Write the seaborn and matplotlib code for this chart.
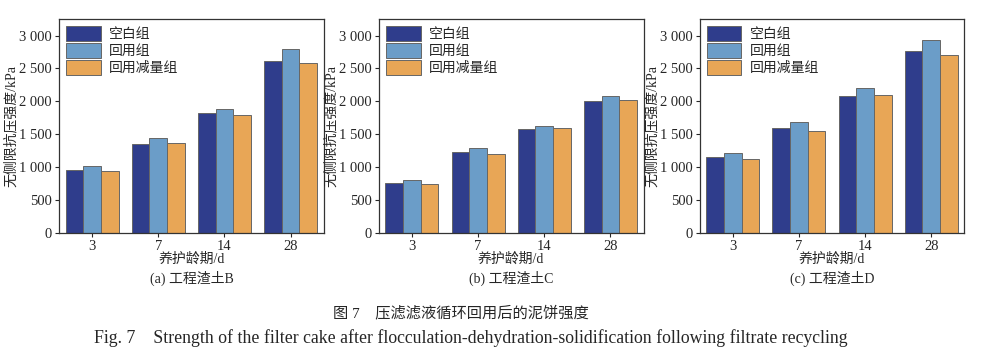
import pandas as pd
import seaborn as sns
import matplotlib.pyplot as plt
from matplotlib.ticker import FuncFormatter

# 养护龄期
ages = ['3', '7', '14', '28']
groups = ['空白组', '回用组', '回用减量组']

# 工程渣土B
b_blank = [956, 1345, 1826, 2610]
b_reuse = [1017, 1437, 1882, 2797]
b_reduce = [936, 1366, 1786, 2590]
# 工程渣土C
c_blank = [752, 1237, 1586, 2010]
c_reuse = [808, 1298, 1621, 2086]
c_reduce = [742, 1197, 1601, 2020]
# 工程渣土D
d_blank = [1150, 1591, 2088, 2767]
d_reuse = [1211, 1683, 2210, 2934]
d_reduce = [1120, 1546, 2093, 2711]

panels = [('(a) 工程渣土B', b_blank, b_reuse, b_reduce),
          ('(b) 工程渣土C', c_blank, c_reuse, c_reduce),
          ('(c) 工程渣土D', d_blank, d_reuse, d_reduce)]

colors = ['#2f3d8c', '#6b9dc8', '#e8a656']

sns.set_style('ticks')
plt.rcParams['font.family'] = ['Liberation Serif', 'Noto Sans CJK SC']
plt.rcParams['font.size'] = 9.5

fig = plt.figure(figsize=(9.84, 3.6), dpi=100)
lefts = [0.060, 0.385, 0.711]

for left, (cap, blank, reuse, reduce) in zip(lefts, panels):
    rows = []
    for g, vals in zip(groups, [blank, reuse, reduce]):
        for a, v in zip(ages, vals):
            rows.append({'age': a, 'group': g, 'val': v})
    df = pd.DataFrame(rows)

    ax = fig.add_axes([left, 0.353, 0.269, 0.594])
    sns.barplot(data=df, x='age', y='val', hue='group', order=ages, hue_order=groups,
                palette=colors, width=0.8, edgecolor='#666666', linewidth=0.7,
                saturation=1, ax=ax)
    ax.set_xlim(-0.5, 3.5)
    ax.set_ylim(0, 3250)
    ax.set_yticks([0, 500, 1000, 1500, 2000, 2500, 3000])
    ax.yaxis.set_major_formatter(FuncFormatter(lambda v, p: f'{int(v):,}'.replace(',', ' ')))
    ax.tick_params(length=3, width=0.8, labelsize=10.5, pad=2)
    for s in ax.spines.values():
        s.set_visible(True)
        s.set_color('#333333')
        s.set_linewidth(0.9)
    ax.set_xlabel('养护龄期/d', fontsize=10, labelpad=0)
    ax.set_ylabel('无侧限抗压强度/kPa', fontsize=10, labelpad=1)
    ax.text(0.5, -0.178, cap, transform=ax.transAxes, ha='center', va='top', fontsize=10)
    ax.legend(loc='upper left', frameon=False, fontsize=10, handlelength=2.5,
              handleheight=1.3, labelspacing=0.12, handletextpad=0.6,
              borderaxespad=0.3, borderpad=0.2)

fig.text(0.468, 0.13, '图 7    压滤滤液循环回用后的泥饼强度', ha='center', va='center', fontsize=11)
fig.text(0.478, 0.06, 'Fig. 7    Strength of the filter cake after flocculation-dehydration-solidification following filtrate recycling',
         ha='center', va='center', fontsize=12.8)

fig.savefig('out.png', dpi=100)
